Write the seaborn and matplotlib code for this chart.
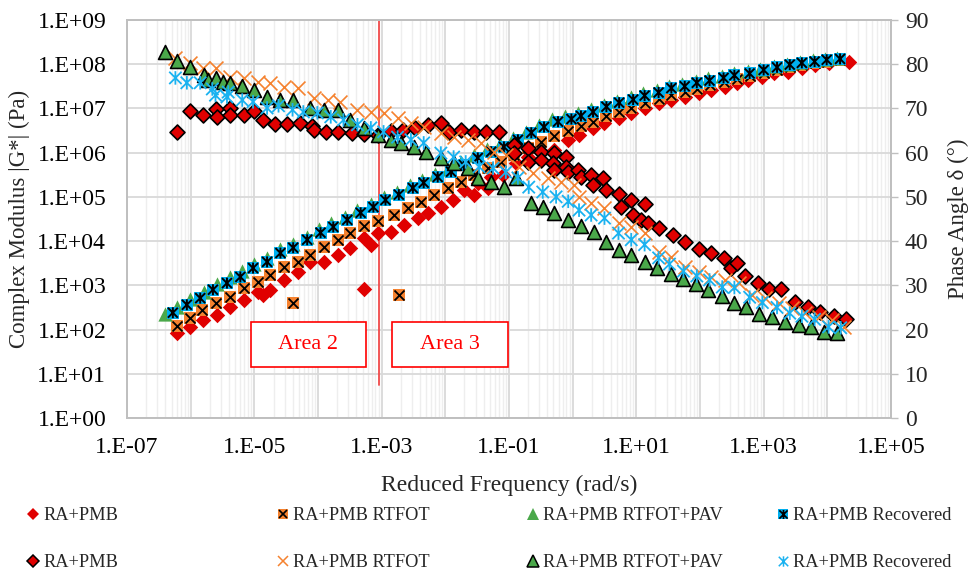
import numpy as np
import pandas as pd
import matplotlib
matplotlib.use("Agg")
import matplotlib.pyplot as plt
import seaborn as sns
from matplotlib.path import Path
from matplotlib.lines import Line2D
from matplotlib.legend_handler import HandlerTuple
from matplotlib.patches import Rectangle
from matplotlib.ticker import LogLocator, FuncFormatter, MultipleLocator, NullFormatter

sns.set_theme(style="white")
plt.rcParams['font.family'] = ['Liberation Serif', 'DejaVu Serif']

# ---------------- data (log10 of reduced frequency, log10 |G*|, phase angle) ----------------
# RA+PMB
ra_g_logf = [-6.21, -6.01, -5.80, -5.58, -5.38, -5.17, -4.95, -4.86, -4.75, -4.54, -4.32, -4.12, -3.91,
             -3.69, -3.49, -3.28, -3.27, -3.17, -3.05, -2.86, -2.65, -2.43, -2.28, -2.07, -1.88, -1.71,
             -1.55, -1.49, -1.33, -1.28, -1.09, -0.89, -0.70, -0.50, -0.29, -0.07, 0.10, 0.32, 0.50,
             0.73, 0.92, 1.13, 1.36, 1.55, 1.76, 1.98, 2.17, 2.39, 2.58, 2.76, 2.97, 3.17, 3.39, 3.60,
             3.80, 4.02, 4.34]
ra_g_log = [1.92, 2.06, 2.22, 2.33, 2.51, 2.67, 2.85, 2.78, 2.90, 3.12, 3.30, 3.53, 3.53, 3.69, 3.85,
            4.07, 2.92, 3.91, 4.19, 4.20, 4.37, 4.52, 4.64, 4.77, 4.93, 5.16, 5.05, 5.32, 5.20, 5.45,
            5.50, 5.77, 5.90, 6.02, 6.06, 6.29, 6.40, 6.56, 6.67, 6.79, 6.90, 7.01, 7.13, 7.19, 7.26,
            7.35, 7.42, 7.49, 7.58, 7.65, 7.71, 7.80, 7.83, 7.92, 7.99, 8.03, 8.05]
ra_p_logf = [-6.21, -6.01, -5.80, -5.60, -5.58, -5.39, -5.38, -5.17, -5.00, -4.86, -4.67, -4.48, -4.28,
             -4.09, -4.07, -3.87, -3.68, -3.47, -3.27, -3.06, -2.86, -2.67, -2.47, -2.28, -2.07, -1.95,
             -1.76, -1.55, -1.36, -1.16, -0.92, -0.92, -0.70, -0.70, -0.50, -0.50, -0.29, -0.31, -0.29,
             -0.10, -0.10, -0.07, 0.09, 0.13, 0.29, 0.32, 0.48, 0.53, 0.73, 0.76, 0.92, 0.95, 1.13,
             1.08, 1.19, 1.36, 1.58, 1.77, 1.98, 2.18, 2.37, 2.48, 2.58, 2.70, 2.91, 3.09, 3.28, 3.49,
             3.69, 3.88, 4.10, 4.29]
ra_p = [64.7, 69.4, 68.5, 69.9, 68.0, 70.1, 68.5, 68.5, 69.4, 67.4, 66.5, 66.5, 66.7, 66.0, 65.1, 64.7,
        64.7, 64.5, 64.2, 64.0, 64.9, 65.1, 65.6, 66.3, 66.7, 64.7, 65.1, 64.7, 64.7, 64.7, 61.7, 59.9,
        61.0, 57.9, 60.2, 58.3, 59.9, 57.7, 56.1, 59.0, 56.8, 55.6, 56.1, 54.5, 55.0, 52.7, 54.3, 51.6,
        50.7, 47.7, 49.3, 45.9, 48.4, 44.8, 44.1, 43.0, 41.4, 39.8, 38.2, 37.3, 36.2, 33.9, 35.0, 32.1,
        30.5, 29.2, 29.2, 26.2, 25.1, 24.0, 23.0, 22.4]

# RA+PMB RTFOT
rt_g_logf = [-6.21, -6.01, -5.82, -5.60, -5.38, -5.17, -4.95, -4.75, -4.54, -4.39, -4.32, -4.12, -3.91,
             -3.69, -3.49, -3.28, -3.06, -2.81, -2.73, -2.59, -2.39, -2.18, -1.96, -1.76, -1.55, -1.33,
             -1.13, -0.92, -0.70, -0.50, -0.29, -0.07, 0.13, 0.32, 0.53, 0.73, 0.92, 1.13, 1.35, 1.55,
             1.76, 1.95, 2.15, 2.37, 2.58, 2.78, 3.00, 3.21, 3.41, 3.60, 3.80, 3.99, 4.20]
rt_g_log = [2.08, 2.26, 2.44, 2.60, 2.74, 2.94, 3.08, 3.24, 3.42, 2.60, 3.53, 3.69, 3.87, 4.03, 4.19,
            4.33, 4.45, 4.59, 2.78, 4.75, 4.89, 5.05, 5.20, 5.34, 5.50, 5.66, 5.79, 5.95, 6.10, 6.25,
            6.38, 6.50, 6.60, 6.70, 6.82, 6.92, 7.02, 7.12, 7.22, 7.30, 7.37, 7.45, 7.52, 7.59, 7.67,
            7.73, 7.80, 7.86, 7.93, 7.98, 8.02, 8.06, 8.09]
rt_p_logf = [-6.24, -6.01, -5.80, -5.61, -5.38, -5.17, -4.95, -4.75, -4.54, -4.32, -4.07, -3.85, -3.65,
             -3.38, -3.17, -2.97, -2.75, -2.54, -2.34, -2.07, -1.87, -1.65, -1.44, -1.24, -1.05, -0.84,
             -0.62, -0.39, -0.18, 0.02, 0.10, 0.29, 0.50, 0.72, 0.92, 1.13, 1.35, 1.55, 1.76, 1.98,
             2.18, 2.39, 2.61, 2.81, 3.02, 3.24, 3.44, 3.65, 3.87, 4.07, 4.26]
rt_p = [81.4, 80.3, 79.1, 79.1, 77.1, 76.9, 76.0, 75.8, 74.9, 74.6, 72.4, 71.9, 71.5, 69.7, 69.2, 69.0,
        67.8, 66.7, 65.8, 64.4, 63.5, 62.9, 62.2, 60.2, 59.5, 56.8, 55.4, 54.3, 53.4, 52.7, 50.0, 48.6,
        47.5, 44.1, 43.2, 41.8, 37.5, 36.4, 34.1, 33.0, 31.9, 31.2, 30.5, 27.8, 27.1, 26.0, 24.9, 23.7,
        22.8, 22.2, 20.6]

# RA+PMB RTFOT+PAV
pav_g_logf = [-6.40, -6.21, -6.01, -5.79, -5.58, -5.39, -5.19, -5.00, -4.80, -4.59, -4.39, -4.18, -3.98,
              -3.79, -3.58, -3.38, -3.17, -2.97, -2.76, -2.56, -2.37, -2.17, -1.96, -1.76, -1.55, -1.35,
              -1.14, -0.94, -0.73, -0.53, -0.32, -0.12, 0.09, 0.29, 0.50, 0.70, 0.91, 1.11, 1.32, 1.52,
              1.72, 1.93, 2.13, 2.34, 2.54, 2.75, 2.95, 3.16, 3.36, 3.57, 3.77, 3.96, 4.15]
pav_g_log = [2.35, 2.50, 2.68, 2.86, 3.03, 3.18, 3.33, 3.49, 3.62, 3.81, 3.94, 4.10, 4.27, 4.40, 4.55,
             4.71, 4.84, 5.00, 5.12, 5.26, 5.39, 5.51, 5.64, 5.79, 5.95, 6.08, 6.20, 6.32, 6.47, 6.62,
             6.75, 6.82, 6.89, 6.98, 7.08, 7.17, 7.25, 7.34, 7.42, 7.50, 7.56, 7.62, 7.68, 7.73, 7.79,
             7.84, 7.90, 7.96, 8.01, 8.05, 8.09, 8.12, 8.14]
pav_p_logf = [-6.40, -6.21, -6.01, -5.79, -5.72, -5.60, -5.50, -5.39, -5.19, -5.00, -4.80, -4.59, -4.39,
              -4.12, -3.91, -3.69, -3.49, -3.28, -3.06, -2.86, -2.70, -2.50, -2.31, -2.07, -1.87, -1.65,
              -1.49, -1.28, -1.08, -0.89, -0.65, -0.47, -0.29, -0.07, 0.13, 0.34, 0.53, 0.72, 0.92,
              1.13, 1.33, 1.54, 1.74, 1.93, 2.13, 2.34, 2.53, 2.73, 2.92, 3.13, 3.33, 3.55, 3.74, 3.95,
              4.15]
pav_p = [82.8, 80.7, 79.4, 77.6, 76.4, 76.9, 76.0, 75.8, 75.1, 74.2, 72.6, 71.9, 71.9, 70.1, 69.7, 69.7,
         67.4, 65.6, 64.0, 62.9, 62.2, 61.3, 60.2, 58.8, 57.7, 56.5, 54.3, 53.4, 52.2, 54.3, 48.6, 47.7,
         46.4, 44.8, 43.5, 42.0, 39.8, 38.0, 36.9, 35.3, 34.0, 32.5, 31.4, 30.2, 29.0, 27.6, 26.0, 25.0,
         23.5, 22.8, 21.8, 21.0, 20.6, 19.4, 19.2]

# RA+PMB Recovered
rec_g_logf = [-6.28, -6.06, -5.85, -5.65, -5.43, -5.22, -5.02, -4.80, -4.59, -4.39, -4.17, -3.96, -3.76,
              -3.54, -3.33, -3.13, -2.94, -2.73, -2.51, -2.34, -2.12, -1.91, -1.71, -1.49, -1.28, -1.08,
              -0.86, -0.65, -0.45, -0.23, -0.02, 0.13, 0.32, 0.53, 0.73, 0.95, 1.13, 1.35, 1.55, 1.76,
              1.95, 2.15, 2.37, 2.54, 2.78, 3.00, 3.21, 3.41, 3.60, 3.80, 3.99, 4.20]
rec_g_log = [2.38, 2.56, 2.71, 2.90, 3.05, 3.19, 3.39, 3.53, 3.73, 3.85, 4.03, 4.19, 4.32, 4.48, 4.64,
             4.77, 4.93, 5.05, 5.20, 5.32, 5.45, 5.57, 5.72, 5.88, 6.02, 6.13, 6.29, 6.45, 6.58, 6.70,
             6.76, 6.83, 6.92, 7.04, 7.13, 7.20, 7.29, 7.36, 7.46, 7.50, 7.58, 7.63, 7.69, 7.75, 7.79,
             7.87, 7.93, 7.99, 8.03, 8.06, 8.10, 8.12]
rec_p_logf = [-6.24, -6.06, -5.85, -5.66, -5.61, -5.41, -5.43, -5.19, -5.02, -4.80, -4.62, -4.40, -4.23,
              -4.01, -3.80, -3.60, -3.38, -3.17, -2.97, -2.75, -2.54, -2.34, -2.07, -1.87, -1.68, -1.47,
              -1.25, -1.05, -0.86, -0.69, -0.47, -0.26, -0.07, 0.10, 0.29, 0.50, 0.72, 0.92, 1.13, 1.35,
              1.52, 1.74, 1.95, 2.15, 2.35, 2.54, 2.78, 2.98, 3.21, 3.41, 3.60, 3.80, 4.02, 4.21]
rec_p = [76.9, 75.8, 75.8, 74.4, 73.0, 73.7, 72.6, 71.9, 71.5, 70.1, 70.6, 69.7, 69.2, 69.0, 68.1, 67.4,
         66.3, 65.6, 64.7, 63.5, 62.9, 62.2, 59.9, 59.0, 57.9, 56.8, 56.5, 55.6, 54.3, 52.2, 51.1, 50.0,
         49.0, 47.0, 45.9, 45.2, 41.8, 40.3, 39.2, 36.2, 34.8, 33.2, 32.1, 31.2, 29.6, 29.5, 27.3, 26.1,
         25.0, 23.7, 23.0, 22.3, 20.6, 20.4]

legend_labels = ["RA+PMB", "RA+PMB RTFOT", "RA+PMB RTFOT+PAV", "RA+PMB Recovered"]
area_labels = ["Area 2", "Area 3"]

# ---------------- style ----------------
RED = "#E00000"
ORANGE = "#F5822F"
GREEN = "#4AA84A"
BLUE = "#00B0F0"
LBLUE = "#1AB2F0"
GRID = "#D9D9D9"
STAR = Path([(-1, -1), (1, 1), (-1, 1), (1, -1), (0, -1.1), (0, 1.1)],
            [Path.MOVETO, Path.LINETO] * 3)

fig = plt.figure(figsize=(9.71, 5.71), dpi=100)
ax = fig.add_axes([0.1308, 0.2680, 0.7868, 0.6970])
ax.set_xscale("log")
ax.set_yscale("log")
ax.set_xlim(1e-7, 1e5)
ax.set_ylim(1e0, 1e9)
ax2 = ax.twinx()
ax2.set_ylim(0, 90)


def frame(logf, vals, logy=False):
    f = np.power(10.0, np.asarray(logf, dtype=float))
    v = np.asarray(vals, dtype=float)
    if logy:
        v = np.power(10.0, v)
    return pd.DataFrame({"f": f, "v": v})


def scat(a, df, **kw):
    sns.scatterplot(data=df, x="f", y="v", ax=a, legend=False, **kw)


# modulus (primary axis)
scat(ax, frame(ra_g_logf, ra_g_log, True), marker="D", s=62, color=RED, edgecolor=RED, linewidth=0, zorder=3)
d = frame(rt_g_logf, rt_g_log, True)
scat(ax, d, marker="s", s=82, color=ORANGE, edgecolor=ORANGE, linewidth=0, zorder=3)
scat(ax, d, marker="x", s=52, color="black", linewidth=1.3, zorder=3)
scat(ax, frame(pav_g_logf, pav_g_log, True), marker="^", s=105, color=GREEN, edgecolor=GREEN, linewidth=0, zorder=3)
d = frame(rec_g_logf, rec_g_log, True)
scat(ax, d, marker="s", s=82, color=BLUE, edgecolor=BLUE, linewidth=0, zorder=3)
scat(ax, d, marker=STAR, s=62, facecolor="none", edgecolor="black", linewidth=1.4, zorder=3)

# phase angle (secondary axis)
scat(ax2, frame(ra_p_logf, ra_p), marker="D", s=58, color=RED, edgecolor="black", linewidth=1.2, zorder=3)
scat(ax2, frame(rt_p_logf, rt_p), marker="x", s=100, color=ORANGE, linewidth=1.2, zorder=3)
scat(ax2, frame(pav_p_logf, pav_p), marker="^", s=100, color=GREEN, edgecolor="black", linewidth=1.2, zorder=3)
scat(ax2, frame(rec_p_logf, rec_p), marker=STAR, s=95, facecolor="none", edgecolor=LBLUE, linewidth=1.3, zorder=3)

# ---------------- axes ----------------
ax.set_xlim(1e-7, 1e5)
ax.set_ylim(1e0, 1e9)
ax2.set_ylim(0, 90)
ax.xaxis.set_major_locator(LogLocator(base=10, numticks=30))
ax.xaxis.set_minor_locator(LogLocator(base=10, subs=np.arange(2, 10), numticks=30))
ax.yaxis.set_major_locator(LogLocator(base=10, numticks=30))
ax.yaxis.set_minor_locator(LogLocator(base=10, subs=[], numticks=30))


def xfmt(v, _):
    e = int(round(np.log10(v)))
    return f"1.E{e:+03d}" if e % 2 == 1 else ""


def yfmt(v, _):
    e = int(round(np.log10(v)))
    return f"1.E{e:+03d}"


ax.xaxis.set_major_formatter(FuncFormatter(xfmt))
ax.xaxis.set_minor_formatter(NullFormatter())
ax.yaxis.set_major_formatter(FuncFormatter(yfmt))
ax.yaxis.set_minor_formatter(NullFormatter())
ax2.yaxis.set_major_locator(MultipleLocator(10))

ax.grid(which="major", axis="both", color=GRID, linewidth=1.3)
ax.grid(which="minor", axis="x", color="#EEEEEE", linewidth=1.0)
ax.set_axisbelow(True)

ax.tick_params(axis="both", which="both", length=0, labelsize=17, colors="black")
ax.tick_params(axis="y", pad=15)
ax.tick_params(axis="x", pad=14)
ax2.tick_params(axis="y", which="major", length=5, width=1, color="#BFBFBF", labelsize=17, pad=5, direction="out")
for a in (ax, ax2):
    for sp in a.spines.values():
        sp.set_color("#BFBFBF")
        sp.set_linewidth(1.2)

ax.set_xlabel("Reduced Frequency (rad/s)", fontsize=17, labelpad=12)
ax.set_ylabel("Complex Modulus |G*| (Pa)", fontsize=16.5, labelpad=5)
ax2.set_ylabel("Phase Angle δ (°)", fontsize=16.5, labelpad=14)

# ---------------- annotations ----------------
ax.axvline(10 ** -3.04, ymin=0.083, ymax=1.0, color="#F24A4A", linewidth=1.3, zorder=2)
for (x0, x1), lab in zip([(-5.05, -3.25), (-2.83, -1.02)], area_labels):
    rect = Rectangle((10 ** x0, 10 ** 1.154), 10 ** x1 - 10 ** x0, 10 ** 2.17 - 10 ** 1.154,
                     facecolor="white", edgecolor="#FF0000", linewidth=1.2, zorder=4)
    ax.add_patch(rect)
    ax.text(10 ** ((x0 + x1) / 2), 10 ** 1.66, lab, ha="center", va="center",
            color="#FF0000", fontsize=16, zorder=5)

# ---------------- legend (4 columns x 2 rows) ----------------
def h(marker, mfc, mec, ms, mew):
    return Line2D([], [], linestyle="None", marker=marker, markerfacecolor=mfc,
                  markeredgecolor=mec, markersize=ms, markeredgewidth=mew)


col_handles = [
    [h("D", RED, RED, 6, 0), h("D", RED, "black", 6, 1.1)],
    [(h("s", ORANGE, ORANGE, 7.5, 0), h("x", "black", "black", 6, 1.2)), h("x", ORANGE, ORANGE, 7.5, 1.1)],
    [h("^", GREEN, GREEN, 8, 0), h("^", GREEN, "black", 8, 1.1)],
    [(h("s", BLUE, BLUE, 7.5, 0), h(STAR, "none", "black", 6.5, 1.2)), h(STAR, "none", LBLUE, 7.5, 1.1)],
]
col_x = [26, 276, 526, 776]
for hs, lab, xp in zip(col_handles, legend_labels, col_x):
    fig.legend(handles=hs, labels=[lab, lab], loc="upper left",
               bbox_to_anchor=(xp / 971, 1 - 507 / 571), frameon=False,
               handlelength=0.8, handletextpad=0.15, labelspacing=1.65,
               borderpad=0, borderaxespad=0, fontsize=13.2,
               handler_map={tuple: HandlerTuple(ndivide=1, pad=0)})

fig.savefig("out.png", dpi=100)
